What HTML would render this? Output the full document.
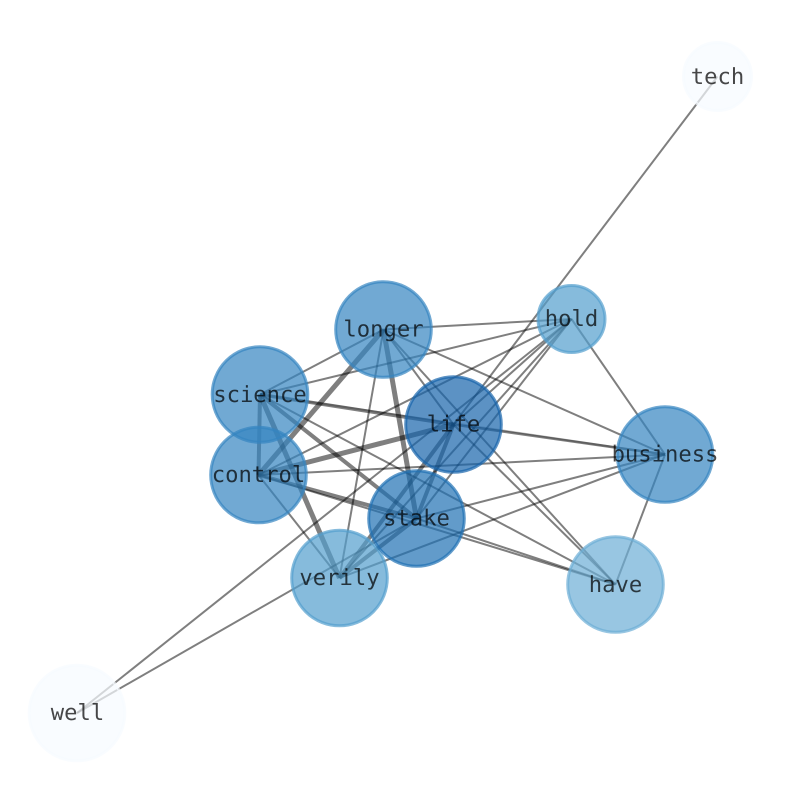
<!DOCTYPE html>
<html><head><meta charset="utf-8"><style>
html,body{margin:0;padding:0;background:#fff}
svg{display:block}
text{font-family:"DejaVu Sans Mono","Liberation Mono",monospace;font-size:22.2px;text-anchor:middle;fill:#000;fill-opacity:.72;text-rendering:geometricPrecision}
.e line{stroke:#000;stroke-opacity:.5;stroke-width:2}
.t line{stroke:#000;stroke-opacity:.5;stroke-width:4}
.u line{stroke:#000;stroke-opacity:.5;stroke-width:5}
circle{stroke-width:3;fill-opacity:.7;stroke-opacity:.7}
</style></head><body>
<svg width="794" height="790" viewBox="0 0 794 790" xmlns="http://www.w3.org/2000/svg">
<g class="e">
<line x1="717.5" y1="76.5" x2="453.5" y2="424.5"/>
<line x1="77" y1="713" x2="571.5" y2="319"/>
<line x1="77" y1="713" x2="416.5" y2="518.5"/>
<line x1="383.5" y1="329.5" x2="260" y2="394.5"/>
<line x1="383.5" y1="329.5" x2="339.5" y2="578"/>
<line x1="383.5" y1="329.5" x2="453.5" y2="424.5"/>
<line x1="383.5" y1="329.5" x2="571.5" y2="319"/>
<line x1="383.5" y1="329.5" x2="665" y2="454.5"/>
<line x1="383.5" y1="329.5" x2="615.5" y2="584.5"/>
<line x1="260" y1="394.5" x2="571.5" y2="319"/>
<line x1="260" y1="394.5" x2="615.5" y2="584.5"/>
<line x1="260" y1="394.5" x2="665" y2="454.5" style="stroke-opacity:.25"/>
<line x1="258.5" y1="475" x2="571.5" y2="319"/>
<line x1="258.5" y1="475" x2="339.5" y2="578"/>
<line x1="258.5" y1="475" x2="665" y2="454.5"/>
<line x1="258.5" y1="475" x2="615.5" y2="584.5"/>
<line x1="453.5" y1="424.5" x2="571.5" y2="319"/>
<line x1="453.5" y1="424.5" x2="615.5" y2="584.5"/>
<line x1="453.5" y1="424.5" x2="665" y2="454.5" style="stroke-width:2.6"/>
<line x1="416.5" y1="518.5" x2="571.5" y2="319"/>
<line x1="416.5" y1="518.5" x2="665" y2="454.5"/>
<line x1="416.5" y1="518.5" x2="615.5" y2="584.5"/>
<line x1="339.5" y1="578" x2="571.5" y2="319"/>
<line x1="339.5" y1="578" x2="665" y2="454.5"/>
<line x1="571.5" y1="319" x2="665" y2="454.5"/>
<line x1="665" y1="454.5" x2="615.5" y2="584.5"/>
<line x1="260" y1="394.5" x2="453.5" y2="424.5" style="stroke-width:3.6"/>
</g>
<g class="t">
<line x1="260" y1="394.5" x2="258.5" y2="475"/>
<line x1="260" y1="394.5" x2="416.5" y2="518.5"/>
<line x1="258.5" y1="475" x2="416.5" y2="518.5"/>
<line x1="453.5" y1="424.5" x2="416.5" y2="518.5"/>
<line x1="453.5" y1="424.5" x2="339.5" y2="578"/>
<line x1="416.5" y1="518.5" x2="339.5" y2="578"/>
</g>
<g class="u">
<line x1="383.5" y1="329.5" x2="258.5" y2="475"/>
<line x1="383.5" y1="329.5" x2="416.5" y2="518.5"/>
<line x1="260" y1="394.5" x2="339.5" y2="578"/>
<line x1="258.5" y1="475" x2="453.5" y2="424.5"/>
</g>
<circle cx="717.5" cy="76.5" r="34" fill="#f7fbff" stroke="#f7fbff"/>
<circle cx="77" cy="713" r="47.8" fill="#f7fbff" stroke="#f7fbff"/>
<circle cx="615.5" cy="584.5" r="47.8" fill="#6caed6" stroke="#6caed6"/>
<circle cx="571.5" cy="319" r="33.5" fill="#529ecd" stroke="#529ecd"/>
<circle cx="339.5" cy="578" r="47.8" fill="#529ecd" stroke="#529ecd"/>
<circle cx="383.5" cy="329.5" r="47.8" fill="#3484c0" stroke="#3484c0"/>
<circle cx="260" cy="394.5" r="47.8" fill="#3484c0" stroke="#3484c0"/>
<circle cx="258.5" cy="475" r="47.8" fill="#3484c0" stroke="#3484c0"/>
<circle cx="665" cy="454.5" r="47.8" fill="#3484c0" stroke="#3484c0"/>
<circle cx="416.5" cy="518.5" r="47.8" fill="#2070b4" stroke="#2070b4"/>
<circle cx="453.5" cy="424.5" r="47.8" fill="#1764ab" stroke="#1764ab"/>
<text x="717.5" y="84">tech</text>
<text x="77.5" y="720">well</text>
<text x="615.5" y="592">have</text>
<text x="571.5" y="326">hold</text>
<text x="339.5" y="585">verily</text>
<text x="383.5" y="336.5">longer</text>
<text x="260" y="402">science</text>
<text x="258.5" y="482">control</text>
<text x="665" y="461.5">business</text>
<text x="416.5" y="525.5">stake</text>
<text x="453.5" y="431.5">life</text>
</svg>
</body></html>
